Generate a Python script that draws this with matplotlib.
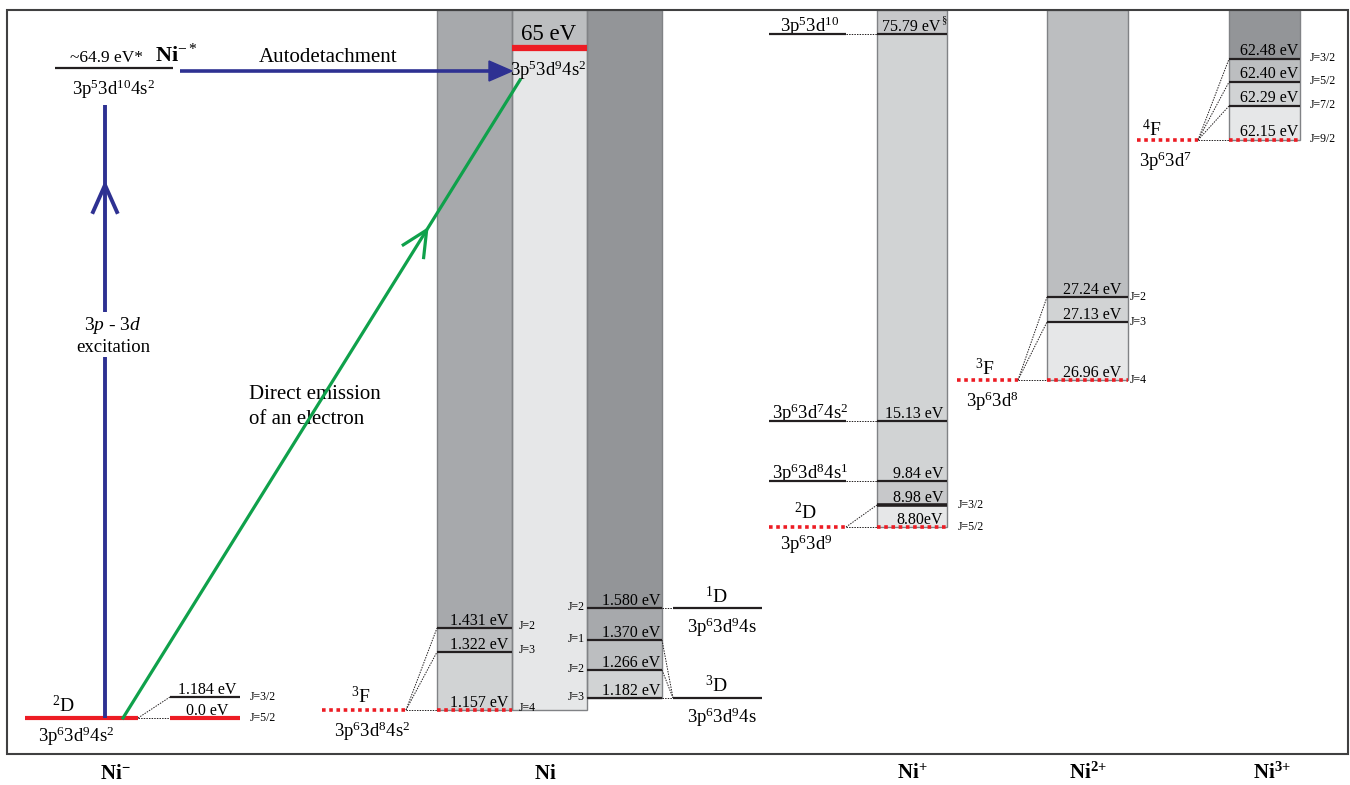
import matplotlib.pyplot as plt
from matplotlib.patches import Rectangle, Polygon

plt.rcParams['font.family'] = 'Liberation Serif'
plt.rcParams['mathtext.fontset'] = 'custom'
plt.rcParams['mathtext.rm'] = 'Liberation Serif'
plt.rcParams['mathtext.it'] = 'Liberation Serif:italic'
plt.rcParams['mathtext.bf'] = 'Liberation Serif:bold'

# level energies (eV) with their J values, lowest level first
nim_e = [0.0, 1.184]
nim_j = ['5/2', '3/2']
nim_star_e = 64.9
ni_f_e = [1.157, 1.322, 1.431]
ni_f_j = ['4', '3', '2']
ni_d_e = [1.182, 1.266, 1.370, 1.580]
ni_d_j = ['3', '2', '1', '2']
ni_core_e = 65
nip_e = [8.80, 8.98, 9.84, 15.13, 75.79]
nip_j = ['5/2', '3/2']
nip_cfg = ['3p^{6}3d^{9}', None, '3p^{6}3d^{8}4s^{1}', '3p^{6}3d^{7}4s^{2}', '3p^{5}3d^{10}']
ni2_e = [26.96, 27.13, 27.24]
ni2_j = ['4', '3', '2']
ni3_e = [62.15, 62.29, 62.40, 62.48]
ni3_j = ['9/2', '7/2', '5/2', '3/2']
ions = [r'Ni}^{\mathbf{-}', 'Ni', r'Ni}^{\mathbf{{+}}', r'Ni}^{\mathbf{2{+}}', r'Ni}^{\mathbf{3{+}}']

# vertical drawing positions (pixels from the top), energy axis is broken
nim_y = [718, 697]
ni_f_y = [710, 652, 628]
ni_d_y = [698, 670, 640, 608]
nip_y = [527, 505, 481, 421, 34]
ni2_y = [380, 322, 297]
ni3_y = [140, 106, 82, 59]
ion_x = [115, 545, 912, 1088, 1272]

DARK = '#231f20'
RED = '#ed1c24'
EDGE = '#808285'
NAVY = '#2e3192'
GREEN = '#0fa14b'
E_SIZE = 11.5
J_SIZE = 8.5
CFG_SIZE = 13.5
TERM_SIZE = 14

fig = plt.figure(figsize=(13.5, 7.85), dpi=100)
ax = fig.add_axes([0, 0, 1, 1])
ax.set_xlim(0, 1350)
ax.set_ylim(785, 0)
ax.axis('off')


def cfg(s):
    return r'$\mathregular{' + s + '}$'


def term(mult, letter):
    return r'$\mathregular{{}^{' + str(mult) + '}' + letter + '}$'


def level(x0, x1, y, red=False, lw=1.6):
    if red:
        ax.plot([x0, x1], [y, y], color=RED, lw=2.6, ls=(0, (1, 1)), zorder=5)
    else:
        ax.plot([x0, x1], [y, y], color=DARK, lw=lw, zorder=4, solid_capstyle='butt')


def dots(x0, y0, x1, y1):
    ax.plot([x0, x1], [y0, y1], color=DARK, lw=0.7, ls=(0, (1.5, 1.2)), zorder=3)


def column(x0, x1, ys, fills, top=10):
    edges = list(ys) + [top]
    for i, c in enumerate(fills):
        ax.add_patch(Rectangle((x0, edges[i + 1]), x1 - x0, edges[i] - edges[i + 1],
                               fc=c, ec='none', zorder=1))
    ax.add_patch(Rectangle((x0, top), x1 - x0, ys[0] - top, fill=False, ec=EDGE, lw=1, zorder=2))


# frame
ax.add_patch(Rectangle((7, 10), 1341, 744, fill=False, ec='#404041', lw=1.5, zorder=8))

# ---------------- Ni- ----------------
ax.plot([25, 138], [nim_y[0], nim_y[0]], color=RED, lw=3, solid_capstyle='butt', zorder=5)
ax.text(63, 712, term(2, 'D'), size=TERM_SIZE, ha='center', va='baseline')
ax.text(76, 742, cfg('3p^{6}3d^{9}4s^{2}'), size=CFG_SIZE, ha='center', va='baseline')
for e, j, y in zip(nim_e, nim_j, nim_y):
    dots(138, nim_y[0], 170, y)
    if e == 0:
        ax.plot([170, 240], [y, y], color=RED, lw=3, solid_capstyle='butt', zorder=5)
        lab = '0.0 eV'
    else:
        level(170, 240, y)
        lab = f'{e:.3f} eV'
    ax.text(207, y - 3, lab, size=E_SIZE, ha='center', va='baseline')
    ax.text(250, y, 'J=' + j, size=J_SIZE, ha='left', va='center')

# excited negative ion
level(55, 173, 68)
ax.text(106, 62, f'~{nim_star_e} eV*', size=12.5, ha='center', va='baseline')
ax.text(155, 62, r'$\mathbf{Ni}^{-*}$', size=16, ha='left', va='baseline')
ax.text(114, 95, cfg('3p^{5}3d^{10}4s^{2}'), size=CFG_SIZE, ha='center', va='baseline')

# 3p-3d excitation arrow
ax.plot([105, 105], [nim_y[0], 357], color=NAVY, lw=2.8, zorder=6, solid_capstyle='butt')
ax.plot([105, 105], [312, 105], color=NAVY, lw=2.8, zorder=6, solid_capstyle='butt')
ax.plot([93, 105, 117], [212, 185, 212], color=NAVY, lw=2.8, zorder=6)
ax.text(113, 330, r'3$\mathit{p}$ - 3$\mathit{d}$', size=14, ha='center', va='baseline')
ax.text(113, 352, 'excitation', size=13.5, ha='center', va='baseline')

# autodetachment arrow
ax.plot([180, 492], [71, 71], color=NAVY, lw=2.6, zorder=6, solid_capstyle='butt')
ax.add_patch(Polygon([(512, 71), (489, 61), (489, 81)], closed=True, fc=NAVY, ec=NAVY, zorder=6))
ax.text(328, 62, 'Autodetachment', size=15, ha='center', va='baseline')

# direct emission line with chevron
gx0, gy0, gx1, gy1 = 123, nim_y[0], 520, 80
ax.plot([gx0, gx1], [gy0, gy1], color=GREEN, lw=2.3, zorder=6)
L = ((gx1 - gx0) ** 2 + (gy1 - gy0) ** 2) ** 0.5
dx, dy = (gx1 - gx0) / L, (gy1 - gy0) / L
t = (gy0 - 230) / (gy0 - gy1)
tx, ty = gx0 + t * (gx1 - gx0), gy0 + t * (gy1 - gy0)
ax.plot([tx - 25 * dx + 12 * dy, tx, tx - 25 * dx - 12 * dy],
        [ty - 25 * dy - 12 * dx, ty, ty - 25 * dy + 12 * dx], color=GREEN, lw=2.3, zorder=6)
ax.text(249, 399, 'Direct emission', size=15, ha='left', va='baseline')
ax.text(249, 424, 'of an electron', size=15, ha='left', va='baseline')

# ---------------- Ni ----------------
column(437, 512, ni_f_y, ['#d1d3d4', '#bcbec0', '#a7a9ac'])
column(512, 587, [710, 45], ['#e6e7e8', '#bcbec0'])
column(587, 662, ni_d_y, ['#d1d3d4', '#bcbec0', '#a7a9ac', '#939598'])

ax.plot([512, 587], [48, 48], color=RED, lw=4.5, solid_capstyle='butt', zorder=5)
ax.text(549, 40, f'{ni_core_e} eV', size=16.5, ha='center', va='baseline')
ax.text(510, 76, cfg('3p^{5}3d^{9}4s^{2}'), size=CFG_SIZE, ha='left', va='baseline', zorder=7)

# 3F term of Ni
level(322, 406, ni_f_y[0], red=True)
ax.text(361, 703, term(3, 'F'), size=TERM_SIZE, ha='center', va='baseline')
ax.text(372, 737, cfg('3p^{6}3d^{8}4s^{2}'), size=CFG_SIZE, ha='center', va='baseline')
for e, j, y in zip(ni_f_e, ni_f_j, ni_f_y):
    dots(406, ni_f_y[0], 437, y)
    level(437, 512, y, red=(y == ni_f_y[0]))
    ax.text(508, y - 3, f'{e:.3f} eV', size=E_SIZE, ha='right', va='baseline', zorder=6)
    ax.text(519, y - 2, 'J=' + j, size=J_SIZE, ha='left', va='center')

# 3D and 1D terms of Ni
for e, j, y in zip(ni_d_e, ni_d_j, ni_d_y):
    level(587, 662, y)
    ax.text(660, y - 3, f'{e:.3f} eV', size=E_SIZE, ha='right', va='baseline', zorder=6)
    ax.text(585, y - 1, 'J=' + j, size=J_SIZE, ha='right', va='center')
for y in ni_d_y[:3]:
    dots(662, y, 673, ni_d_y[0])
dots(662, ni_d_y[3], 673, ni_d_y[3])
level(673, 762, ni_d_y[0])
level(673, 762, ni_d_y[3])
ax.text(716, 603, term(1, 'D'), size=TERM_SIZE, ha='center', va='baseline')
ax.text(722, 633, cfg('3p^{6}3d^{9}4s'), size=CFG_SIZE, ha='center', va='baseline')
ax.text(716, 692, term(3, 'D'), size=TERM_SIZE, ha='center', va='baseline')
ax.text(722, 723, cfg('3p^{6}3d^{9}4s'), size=CFG_SIZE, ha='center', va='baseline')

# ---------------- Ni+ ----------------
column(877, 947, [nip_y[0], nip_y[1], nip_y[2], nip_y[4]],
       ['#e6e7e8', '#c7c8ca', '#d1d3d4', '#c7c8ca'])
for i, (e, y) in enumerate(zip(nip_e, nip_y)):
    red = i == 0
    level(877, 947, y, red=red, lw=2.6 if i == 1 else 1.6)
    sep = '' if i == 0 else ' '
    xr = 940 if i == 4 else 943
    ax.text(xr, y - 3, f'{e:.2f}{sep}eV', size=E_SIZE, ha='right', va='baseline', zorder=6)
    if i < 2:
        ax.text(958, y, 'J=' + nip_j[i], size=J_SIZE, ha='left', va='center')
    if nip_cfg[i] is not None:
        if red:
            level(769, 846, y, red=True)
            ax.text(805, 519, term(2, 'D'), size=TERM_SIZE, ha='center', va='baseline')
            ax.text(806, 550, cfg(nip_cfg[i]), size=CFG_SIZE, ha='center', va='baseline')
        else:
            level(769, 846, y)
            ax.text(810, y - 2, cfg(nip_cfg[i]), size=CFG_SIZE, ha='center', va='baseline')
            dots(846, y, 877, y)
dots(846, nip_y[0], 877, nip_y[0])
dots(846, nip_y[0], 877, nip_y[1])
ax.text(941, 20, '§', size=7.5, ha='left', va='center')

# ---------------- Ni2+ ----------------
column(1047, 1128, ni2_y, ['#e6e7e8', '#d1d3d4', '#bcbec0'])
level(957, 1018, ni2_y[0], red=True)
ax.text(985, 375, term(3, 'F'), size=TERM_SIZE, ha='center', va='baseline')
ax.text(992, 407, cfg('3p^{6}3d^{8}'), size=CFG_SIZE, ha='center', va='baseline')
for e, j, y in zip(ni2_e, ni2_j, ni2_y):
    dots(1018, ni2_y[0], 1047, y)
    level(1047, 1128, y, red=(y == ni2_y[0]))
    ax.text(1121, y - 3, f'{e:.2f} eV', size=E_SIZE, ha='right', va='baseline', zorder=6)
    ax.text(1130, y, 'J=' + j, size=J_SIZE, ha='left', va='center')

# ---------------- Ni3+ ----------------
column(1229, 1300, ni3_y, ['#e6e7e8', '#d1d3d4', '#bcbec0', '#939598'])
level(1137, 1198, ni3_y[0], red=True)
ax.text(1152, 136, term(4, 'F'), size=TERM_SIZE, ha='center', va='baseline')
ax.text(1166, 167, cfg('3p^{6}3d^{7}'), size=CFG_SIZE, ha='center', va='baseline')
for e, j, y in zip(ni3_e, ni3_j, ni3_y):
    dots(1198, ni3_y[0], 1229, y)
    level(1229, 1300, y, red=(y == ni3_y[0]))
    ax.text(1298, y - 4, f'{e:.2f} eV', size=E_SIZE, ha='right', va='baseline', zorder=6)
    ax.text(1310, y - 1, 'J=' + j, size=J_SIZE, ha='left', va='center')

# ion labels under the frame
for name, x in zip(ions, ion_x):
    ax.text(x, 779, r'$\mathbf{' + name + '}$', size=15, ha='center', va='baseline')

fig.savefig('out.png', dpi=100)
